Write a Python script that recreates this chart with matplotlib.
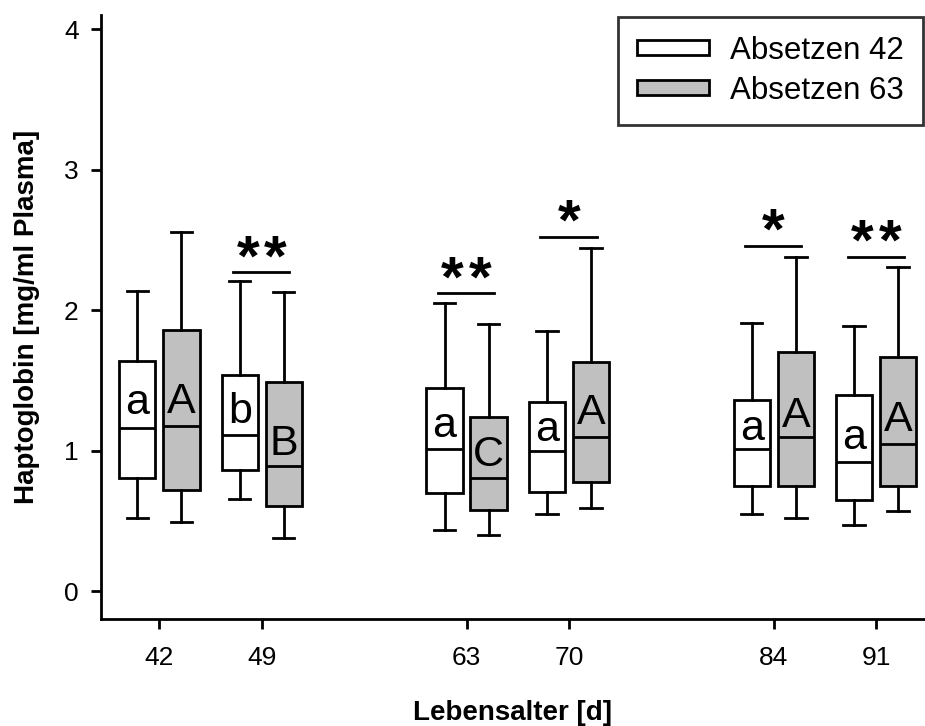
import matplotlib
matplotlib.use("Agg")
import matplotlib.pyplot as plt
from matplotlib.patches import Patch

plt.rcParams['font.family'] = ['Liberation Sans', 'DejaVu Sans']

# Lebensalter [d] and plot slot of each day (groups of two with a gap)
days = [42, 49, 63, 70, 84, 91]
slots = [0, 1, 3, 4, 6, 7]

# Absetzen 42 (white boxes)
w_lo = [0.52, 0.66, 0.44, 0.55, 0.55, 0.47]
w_q1 = [0.81, 0.86, 0.70, 0.71, 0.75, 0.65]
w_med = [1.16, 1.11, 1.01, 1.00, 1.01, 0.92]
w_q3 = [1.64, 1.54, 1.45, 1.35, 1.36, 1.40]
w_hi = [2.14, 2.21, 2.05, 1.85, 1.91, 1.89]

# Absetzen 63 (grey boxes)
g_lo = [0.49, 0.38, 0.40, 0.59, 0.52, 0.57]
g_q1 = [0.72, 0.61, 0.58, 0.78, 0.75, 0.75]
g_med = [1.18, 0.89, 0.81, 1.10, 1.10, 1.05]
g_q3 = [1.86, 1.49, 1.24, 1.63, 1.70, 1.67]
g_hi = [2.56, 2.13, 1.90, 2.44, 2.38, 2.31]

# letters inside the boxes and their baseline height
w_letters = ['a', 'b', 'a', 'a', 'a', 'a']
w_letter_y = [1.26, 1.20, 1.10, 1.07, 1.08, 1.01]
g_letters = ['A', 'B', 'C', 'A', 'A', 'A']
g_letter_y = [1.27, 0.97, 0.89, 1.19, 1.17, 1.14]

# significance between the two groups of each day (number of stars)
n_stars = [0, 2, 2, 1, 1, 2]
sig_y = [None, 2.27, 2.12, 2.52, 2.46, 2.38]

grey = '#c0c0c0'
off = 0.215
bw = 0.355
lw = 2.0

fig = plt.figure(figsize=(9.25, 7.26), dpi=100)
ax = fig.add_axes([0.1089, 0.1467, 0.8911, 0.8326])


def stats(lo, q1, med, q3, hi):
    return [dict(whislo=a, q1=b, med=c, q3=d, whishi=e, fliers=[])
            for a, b, c, d, e in zip(lo, q1, med, q3, hi)]


for st, shift, col in [(stats(w_lo, w_q1, w_med, w_q3, w_hi), -off, 'white'),
                       (stats(g_lo, g_q1, g_med, g_q3, g_hi), off, grey)]:
    ax.bxp(st, positions=[s + shift for s in slots], widths=bw,
           capwidths=0.21, patch_artist=True, showfliers=False,
           boxprops=dict(facecolor=col, edgecolor='black', linewidth=lw),
           medianprops=dict(color='black', linewidth=lw),
           whiskerprops=dict(color='black', linewidth=lw),
           capprops=dict(color='black', linewidth=lw),
           manage_ticks=False)

for s, wl, wy, gl, gy in zip(slots, w_letters, w_letter_y, g_letters, g_letter_y):
    ax.text(s - off, wy, wl, ha='center', va='baseline', fontsize=31)
    ax.text(s + off, gy, gl, ha='center', va='baseline', fontsize=31)

for s, n, y in zip(slots, n_stars, sig_y):
    if n == 0:
        continue
    ax.plot([s - 0.278, s + 0.27], [y, y], color='black', lw=lw)
    xs = [s] if n == 1 else [s - 0.135, s + 0.135]
    for xx in xs:
        ax.text(xx, y - 0.02, '*', ha='center', va='baseline',
                fontsize=42, fontweight='bold')

ax.set_xlim(-0.572, 7.477)
ax.set_ylim(-0.2, 4.1)
ax.set_xticks(slots)
ax.set_xticklabels([str(d) for d in days])
ax.set_yticks([0, 1, 2, 3, 4])
ax.tick_params(labelsize=19, width=lw, length=7)
ax.tick_params(axis='x', pad=12)
ax.tick_params(axis='y', pad=9)
for side in ['top', 'right']:
    ax.spines[side].set_visible(False)
for side in ['left', 'bottom']:
    ax.spines[side].set_linewidth(lw)

ax.set_xlabel('Lebensalter [d]', fontsize=20, fontweight='bold', labelpad=22)
ax.set_ylabel('Haptoglobin [mg/ml Plasma]', fontsize=20, fontweight='bold', labelpad=17)

handles = [Patch(facecolor='white', edgecolor='black', linewidth=lw, label='Absetzen 42'),
           Patch(facecolor=grey, edgecolor='black', linewidth=lw, label='Absetzen 63')]
leg = ax.legend(handles=handles, loc='upper right', fontsize=22.5,
                bbox_to_anchor=(923 / 925, 1 - 17 / 726),
                bbox_transform=fig.transFigure, borderaxespad=0,
                fancybox=False, handlelength=2.3, handleheight=0.4,
                labelspacing=0.32, handletextpad=0.7, borderpad=0.6)
leg.get_frame().set_edgecolor('black')
leg.get_frame().set_linewidth(lw)

fig.savefig('out.png', dpi=100)
